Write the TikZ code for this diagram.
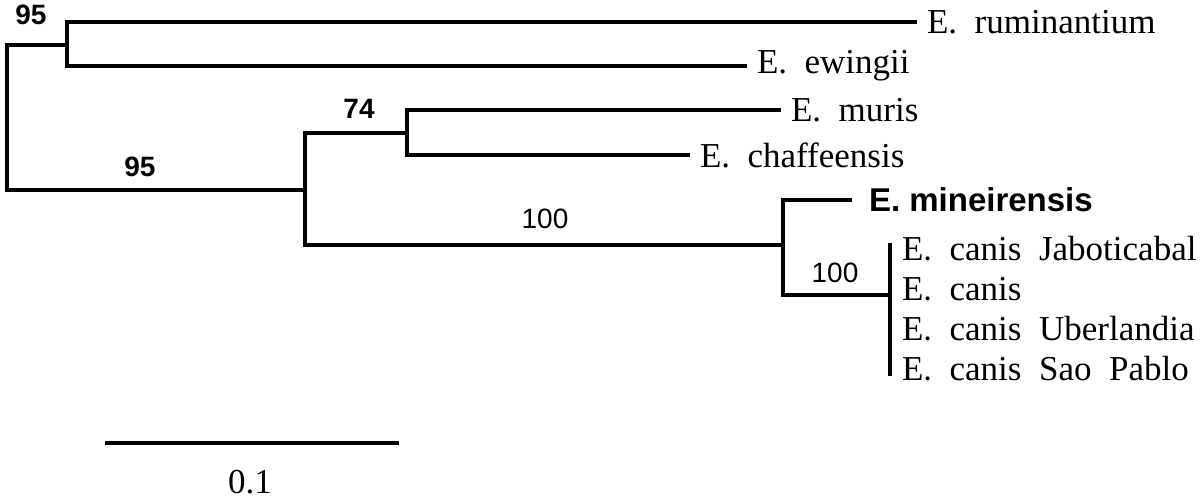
\documentclass[tikz,border=0pt]{standalone}
\usepackage{fontspec}
\setmainfont{Liberation Serif}
\newfontfamily\arialfont{Liberation Sans}
\begin{document}
\begin{tikzpicture}[x=0.5pt,y=-0.5pt,line width=2pt,line cap=rect,line join=miter,
	leaf/.style={anchor=west,inner sep=5pt,font=\fontsize{17.5}{18}\selectfont},
	boot/.style={inner sep=0pt,font=\arialfont\fontsize{14}{14}\selectfont},
	bootb/.style={boot,font=\arialfont\bfseries\fontsize{14}{14}\selectfont}]
		\useasboundingbox (0,0) rectangle (1200,499);
		% inner nodes of the tree
		\coordinate (root) at (7,45);
		\coordinate (A) at (67,45);
		\coordinate (B) at (305,190);
		\coordinate (C) at (407,133);
		\coordinate (D) at (783,245);
		\coordinate (E) at (890,295);
		% leaves
		\node[leaf] (rum) at (915,22) {E.\ \ ruminantium};
		\node[leaf] (ewi) at (745,66) {E.\ \ ewingii};
		\node[leaf] (mur) at (779,110) {E.\ \ muris};
		\node[leaf] (cha) at (688,155) {E.\ \ chaffeensis};
		\node[leaf,font=\arialfont\bfseries\fontsize{16.5}{17}\selectfont,inner sep=0pt] (min) at (867,200) {E. mineirensis};
		\coordinate (minend) at (850,200);
		\node[leaf] (jab) at (890,249) {E.\ \ canis\ \ Jaboticabal};
		\node[leaf] (can) at (890,289) {E.\ \ canis};
		\node[leaf] (ube) at (890,329) {E.\ \ canis\ \ Uberlandia};
		\node[leaf] (pab) at (890,369) {E.\ \ canis\ \ Sao\ \ Pablo};
		% branches
		\draw (A) -| (root);
		\draw (B) -| (root);
		\draw (rum.west) -| (A);
		\draw (ewi.west) -| (A);
		\draw (C) -| (B);
		\draw (D) -| (B);
		\draw (mur.west) -| (C);
		\draw (cha.west) -| (C);
		\draw (minend) -| (D);
		\draw (E) -| (D);
		\draw (890,245) -- (890,374);
		% bootstrap values
		\node[bootb] (b1) at (31,15) {95};
		\node[bootb] (b2) at (140,167) {95};
		\node[bootb] (b3) at (359,109) {74};
		\node[boot] (b4) at (545,219) {100};
		\node[boot] (b5) at (835,273) {100};
		% scale bar
		\coordinate (s1) at (107,443);
		\coordinate (s2) at (397,443);
		\draw (s1) -- (s2);
		\node[font=\fontsize{17.5}{18}\selectfont,inner sep=0pt] (sl) at (250,482) {0.1};
\end{tikzpicture}
\end{document}
